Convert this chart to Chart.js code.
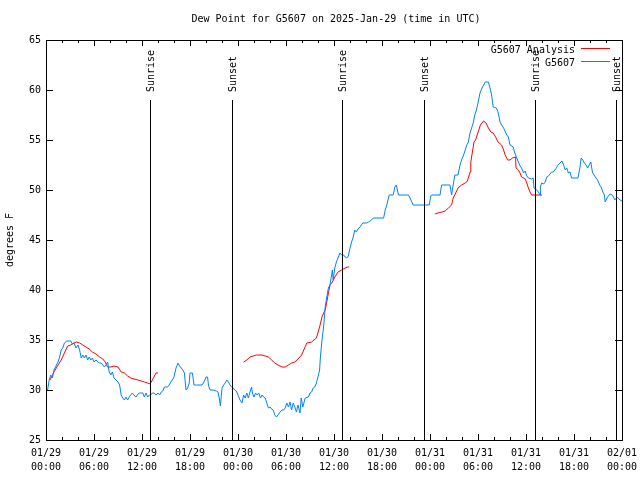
<!DOCTYPE html>
<html>
<head>
<meta charset="utf-8">
<script src="https://cdn.jsdelivr.net/npm/chart.js@4/dist/chart.umd.min.js"></script>
<style>
  body { margin: 0; background: #fff; }
  #dew-chart { display: block; }
</style>
</head>
<body>
<canvas id="dew-chart" width="640" height="480"></canvas>
<script>
// Hours since 2025-01-29 00:00 UTC
const obsHours = [0.1, 0.2, 0.4, 0.6, 0.8, 1.0, 1.5, 1.7, 1.9, 2.1, 2.3, 2.6, 3.1, 3.3, 3.5, 3.75, 4.0, 4.2, 4.4, 4.6,
  4.8, 5.0, 5.2, 5.4, 5.6, 5.8, 6.0, 6.25, 6.5, 6.7, 6.9, 7.1, 7.3, 7.5, 7.7, 7.9, 8.1, 8.3, 8.5, 8.75,
  9.0, 9.2, 9.4, 9.6, 9.8, 10.0, 10.2, 10.4, 10.6, 10.8, 11.0, 11.25, 11.5, 11.7, 12.1, 12.3, 12.5, 12.7, 12.9, 13.1,
  13.3, 13.5, 13.75, 14.0, 14.2, 14.4, 14.6, 14.8, 15.2, 15.4, 15.6, 15.8, 16.0, 16.25, 16.5, 16.7, 16.9, 17.1, 17.3, 17.5,
  17.7, 17.9, 18.0, 18.3, 18.5, 18.8, 19.5, 19.75, 20.0, 20.2, 20.3, 20.5, 20.9, 21.3, 21.5, 21.7, 21.8, 22.0, 22.2, 22.4,
  22.6, 22.8, 23.0, 23.2, 23.4, 23.6, 23.8, 24.0, 24.25, 24.5, 24.7, 24.9, 25.1, 25.3, 25.5, 25.7, 25.8, 26.0, 26.2, 26.4,
  26.6, 26.8, 27.0, 27.2, 27.4, 27.6, 27.8, 28.0, 28.2, 28.4, 28.6, 28.8, 29.0, 29.25, 29.5, 29.7, 29.9, 30.1, 30.3, 30.5,
  30.7, 30.9, 31.1, 31.3, 31.5, 31.75, 31.9, 32.1, 32.4, 32.8, 33.0, 33.2, 33.4, 33.6, 33.8, 34.0, 34.2, 34.3, 34.5, 34.7,
  34.9, 35.1, 35.3, 35.5, 35.7, 35.8, 35.9, 36.1, 36.3, 36.5, 36.75, 36.95, 37.2, 37.4, 37.6, 37.8, 38.0, 38.2, 38.4, 38.6,
  38.8, 39.0, 39.25, 39.6, 40.1, 40.3, 40.7, 40.9, 42.2, 42.4, 42.6, 42.9, 43.4, 43.6, 43.8, 44.05, 45.3, 45.5, 45.9, 47.9,
  48.1, 48.2, 49.25, 49.45, 50.5, 50.7, 50.9, 51.1, 51.5, 51.75, 51.95, 52.2, 52.4, 52.6, 52.8, 53.0, 53.2, 53.4, 53.6, 53.8,
  54.0, 54.25, 54.5, 54.7, 54.9, 55.3, 55.5, 55.7, 55.9, 56.3, 56.5, 56.75, 56.95, 57.2, 57.6, 57.8, 58.0, 58.4, 58.6, 58.8,
  59.05, 59.25, 59.45, 59.7, 59.9, 60.1, 60.3, 60.7, 60.9, 61.0, 61.35, 61.55, 61.75, 61.8, 61.95, 62.2, 62.4, 62.6, 62.8, 63.0,
  63.2, 63.4, 63.6, 63.8, 64.0, 64.25, 64.5, 64.7, 64.9, 65.1, 65.3, 65.5, 65.7, 66.5, 66.75, 66.9, 67.1, 67.3, 67.5, 67.7,
  67.9, 68.1, 68.3, 68.5, 68.75, 68.95, 69.2, 69.4, 69.6, 69.8, 69.9, 70.2, 70.5, 70.8, 71.1, 71.4, 71.75, 72.0];
const obsDew = [30.0, 30.0, 31.0, 31.5, 31.2, 32.0, 32.8, 33.3, 34.0, 34.2, 34.7, 34.9, 34.9, 34.6, 34.7, 34.2, 34.5, 34.0, 33.2, 33.5,
  33.2, 33.5, 33.0, 33.3, 33.0, 33.2, 32.8, 33.0, 32.8, 32.7, 32.7, 32.5, 32.3, 32.5, 32.8, 31.8, 31.5, 31.8, 31.2, 31.0,
  30.8, 30.5, 29.5, 29.2, 29.0, 29.3, 29.0, 29.3, 29.5, 29.7, 29.5, 29.3, 29.6, 29.7, 29.7, 29.3, 29.7, 29.3, 29.5, 29.5,
  29.7, 29.7, 29.5, 29.7, 29.5, 29.8, 29.9, 30.3, 30.3, 30.5, 30.8, 31.0, 31.3, 32.2, 32.7, 32.4, 32.2, 32.0, 31.7, 30.0,
  30.2, 30.7, 31.7, 31.7, 30.5, 30.5, 30.5, 30.8, 31.3, 31.3, 30.5, 30.0, 30.0, 29.9, 29.8, 29.0, 28.4, 30.2, 30.5, 30.7,
  31.0, 30.8, 30.5, 30.3, 30.2, 30.0, 29.9, 29.5, 29.0, 28.7, 29.5, 29.2, 29.7, 29.2, 29.8, 30.3, 29.7, 29.3, 29.7, 29.5,
  29.7, 29.2, 29.5, 29.3, 29.2, 28.7, 28.2, 28.3, 28.1, 28.0, 27.5, 27.3, 27.5, 27.8, 28.0, 28.0, 28.2, 28.7, 28.3, 28.8,
  28.0, 28.7, 28.3, 27.8, 28.5, 27.7, 29.2, 28.3, 29.2, 29.3, 29.7, 29.8, 30.2, 30.3, 30.7, 31.3, 32.0, 33.3, 35.0, 36.3,
  38.3, 39.3, 40.2, 40.5, 41.5, 42.0, 41.0, 42.2, 42.8, 43.2, 43.7, 43.5, 43.5, 43.3, 43.2, 43.4, 44.2, 44.8, 45.3, 46.0,
  45.8, 46.1, 46.3, 46.7, 46.7, 46.8, 47.0, 47.2, 47.2, 48.0, 48.5, 49.5, 49.5, 50.3, 50.5, 49.5, 49.5, 49.2, 48.5, 48.5,
  49.4, 49.5, 49.5, 50.5, 50.5, 49.5, 50.5, 51.5, 51.5, 52.5, 53.0, 53.5, 54.0, 54.5, 54.8, 55.7, 56.2, 56.7, 57.5, 58.0,
  58.7, 59.7, 60.2, 60.5, 60.8, 60.8, 60.2, 59.5, 58.3, 58.2, 57.8, 56.8, 56.5, 56.2, 55.5, 55.3, 54.5, 54.3, 53.7, 53.3,
  52.8, 52.4, 52.2, 51.7, 51.9, 51.4, 51.2, 51.1, 51.2, 50.2, 50.0, 49.8, 49.5, 50.3, 50.7, 50.6, 50.8, 51.3, 51.4, 51.6,
  51.8, 51.8, 52.0, 52.2, 52.5, 52.7, 52.9, 52.5, 52.0, 52.2, 51.7, 51.8, 51.2, 51.2, 52.3, 53.2, 53.0, 52.7, 52.5, 52.2,
  52.5, 52.8, 51.8, 51.5, 51.2, 51.0, 50.5, 50.3, 49.8, 49.5, 48.8, 49.3, 49.6, 49.5, 49.0, 49.3, 49.0, 48.9];

// Analysis runs, null marks the gaps between them
const anaHours = [0.5, 1.0, 1.5, 1.9, 2.3, 2.7, 3.1, 3.5, 3.8, 4.2, 4.6, 5.0, 5.4, 5.8, 6.25, 6.7, 7.1, 7.4, 7.7, 8.1,
  8.5, 9.0, 9.4, 9.8, 10.2, 10.6, 11.0, 11.5, 11.9, 12.3, 12.7, 13.0, 13.3, 13.75, 14.0, 19.0,
  24.7, 25.1, 25.5, 25.9, 26.3, 27.0, 27.4, 27.8, 28.2, 28.6, 29.0, 29.5, 29.9, 30.3, 30.7, 31.1, 31.5, 31.95, 32.6, 33.2,
  33.8, 34.2, 34.5, 34.7, 34.9, 35.1, 35.3, 35.5, 35.8, 36.1, 36.5, 36.95, 37.4, 37.7, 37.9, 43.0,
  48.6, 49.0, 49.5, 49.9, 50.3, 50.7, 50.9, 51.1, 51.5, 51.95, 52.6, 52.8, 53.0, 53.1, 53.3, 53.5, 53.7, 53.9, 54.1, 54.3,
  54.7, 55.0, 55.3, 55.6, 55.9, 56.2, 56.5, 56.95, 57.2, 57.4, 57.7, 58.0, 58.3, 58.7, 58.75, 59.05, 59.25, 59.45, 59.9, 60.1,
  60.3, 60.5, 60.7, 62.0];
const anaDew = [31.0, 31.8, 32.5, 33.0, 33.7, 34.4, 34.5, 34.7, 34.8, 34.7, 34.5, 34.3, 34.1, 33.8, 33.6, 33.3, 33.1, 32.8, 32.3, 32.3,
  32.4, 32.3, 31.8, 31.7, 31.4, 31.2, 31.1, 31.0, 30.9, 30.8, 30.7, 30.6, 31.0, 31.7, 31.7, null,
  32.8, 33.0, 33.3, 33.4, 33.5, 33.5, 33.4, 33.3, 33.0, 32.7, 32.5, 32.3, 32.3, 32.5, 32.7, 32.8, 33.1, 33.5, 34.7, 34.8,
  35.2, 36.3, 37.3, 37.7, 38.0, 38.8, 39.7, 40.5, 40.8, 41.3, 41.8, 42.0, 42.2, 42.3, 42.3, null,
  47.6, 47.7, 47.8, 47.9, 48.2, 48.5, 49.2, 49.5, 50.2, 50.5, 50.8, 51.2, 51.8, 52.8, 53.8, 54.8, 55.0, 55.5, 56.0, 56.5,
  56.9, 56.7, 56.2, 55.8, 55.7, 55.3, 54.8, 54.5, 54.0, 53.5, 53.0, 53.0, 53.2, 53.3, 52.2, 52.0, 51.7, 51.3, 51.1, 50.7,
  50.2, 49.8, 49.5, 49.5];

const sunriseHours = [13.05, 37.05, 61.07];
const sunsetHours = [23.3, 47.2, 71.2];
const xTickDays = ['01/29', '01/29', '01/29', '01/29', '01/30', '01/30', '01/30', '01/30', '01/31', '01/31', '01/31', '01/31', '02/01'];
const xTickTimes = ['00:00', '06:00', '12:00', '18:00'];

const FONT = '"DejaVu Sans Mono", "Liberation Mono", monospace';

// frame, inward ticks, sun lines, legend and titles, gnuplot style
const gnuplotDecor = {
  id: 'gnuplotDecor',
  afterDatasetsDraw(chart) {
    const ctx = chart.ctx;
    const a = chart.chartArea;
    const xs = chart.scales.x;
    const ys = chart.scales.y;
    ctx.save();
    ctx.strokeStyle = '#000';
    ctx.lineWidth = 1;

    // sunrise / sunset
    ctx.font = '10px ' + FONT;
    ctx.fillStyle = '#000';
    const sunLine = (t, label) => {
      const px = Math.round(xs.getPixelForValue(t)) + 0.5;
      ctx.beginPath();
      ctx.moveTo(px, ys.getPixelForValue(59));
      ctx.lineTo(px, a.bottom);
      ctx.stroke();
      ctx.save();
      ctx.translate(px + 1, ys.getPixelForValue(59.8));
      ctx.rotate(-Math.PI / 2);
      ctx.textAlign = 'left';
      ctx.textBaseline = 'middle';
      ctx.fillText(label, 0, 0);
      ctx.restore();
    };
    sunriseHours.forEach(t => sunLine(t, 'Sunrise'));
    sunsetHours.forEach(t => sunLine(t, 'Sunset'));

    // frame
    ctx.strokeRect(a.left + 0.5, a.top + 0.5, a.right - a.left, a.bottom - a.top);

    // y ticks, both sides
    ctx.beginPath();
    for (let v = 25; v <= 65; v += 5) {
      const py = Math.round(ys.getPixelForValue(v)) + 0.5;
      ctx.moveTo(a.left, py); ctx.lineTo(a.left + 7, py);
      ctx.moveTo(a.right, py); ctx.lineTo(a.right - 7, py);
    }
    // x ticks, major every 6 h, minor every 2 h, top and bottom
    for (let h = 0; h <= 72; h += 2) {
      const px = Math.round(xs.getPixelForValue(h)) + 0.5;
      const len = h % 6 === 0 ? 6 : 3;
      ctx.moveTo(px, a.bottom); ctx.lineTo(px, a.bottom - len);
      ctx.moveTo(px, a.top); ctx.lineTo(px, a.top + len);
    }
    ctx.stroke();

    // legend
    ctx.textAlign = 'right';
    ctx.textBaseline = 'middle';
    ctx.fillText('G5607 Analysis', 575, 50);
    ctx.fillText('G5607', 575, 63);
    ctx.lineWidth = 1;
    ctx.strokeStyle = '#ff0000';
    ctx.beginPath(); ctx.moveTo(581, 48.5); ctx.lineTo(610, 48.5); ctx.stroke();
    ctx.strokeStyle = '#0080ff';
    ctx.beginPath(); ctx.moveTo(581, 61.5); ctx.lineTo(610, 61.5); ctx.stroke();

    // title
    ctx.textAlign = 'center';
    ctx.fillText('Dew Point for G5607 on 2025-Jan-29 (time in UTC)', 336, 19);

    // y axis title
    ctx.save();
    ctx.translate(10, 240);
    ctx.rotate(-Math.PI / 2);
    ctx.fillText('degrees F', 0, 0);
    ctx.restore();

    ctx.restore();
  }
};

function initChart() {
  const ctx = document.getElementById('dew-chart').getContext('2d');
  new Chart(ctx, {
    type: 'line',
    data: {
      datasets: [{
        label: 'G5607',
        data: obsHours.map((h, i) => ({ x: h, y: obsDew[i] })),
        borderColor: '#0080ff',
        borderWidth: 1,
        pointRadius: 0,
        order: 0
      },
      {
        label: 'G5607 Analysis',
        data: anaHours.map((h, i) => ({ x: h, y: anaDew[i] })),
        borderColor: '#ff0000',
        borderWidth: 1,
        pointRadius: 0,
        spanGaps: false,
        order: 1
      }]
    },
    options: {
      responsive: false,
      animation: false,
      devicePixelRatio: 1,
      layout: { padding: { top: 40, right: 18, left: 0, bottom: 0 } },
      plugins: {
        legend: { display: false },
        tooltip: { enabled: false }
      },
      scales: {
        x: {
          type: 'linear',
          min: 0,
          max: 72,
          afterFit: s => { s.height = 40; s.paddingLeft = 0; s.paddingRight = 0; },
          afterBuildTicks: s => { s.ticks = xTickDays.map((d, i) => ({ value: i * 6 })); },
          grid: { display: false, drawTicks: false, tickLength: 0 },
          border: { display: false },
          ticks: {
            padding: 6,
            maxRotation: 0,
            autoSkip: false,
            color: '#000',
            font: { family: FONT, size: 10, lineHeight: 1.4 },
            callback: v => [xTickDays[v / 6], xTickTimes[(v / 6) % 4]]
          }
        },
        y: {
          min: 25,
          max: 65,
          afterFit: s => { s.width = 46; s.paddingTop = 0; s.paddingBottom = 0; },
          grid: { display: false, drawTicks: false, tickLength: 0 },
          border: { display: false },
          ticks: {
            stepSize: 5,
            padding: 5,
            color: '#000',
            font: { family: FONT, size: 10 }
          }
        }
      }
    },
    plugins: [gnuplotDecor]
  });
}

document.addEventListener('DOMContentLoaded', initChart);
</script>
</body>
</html>
